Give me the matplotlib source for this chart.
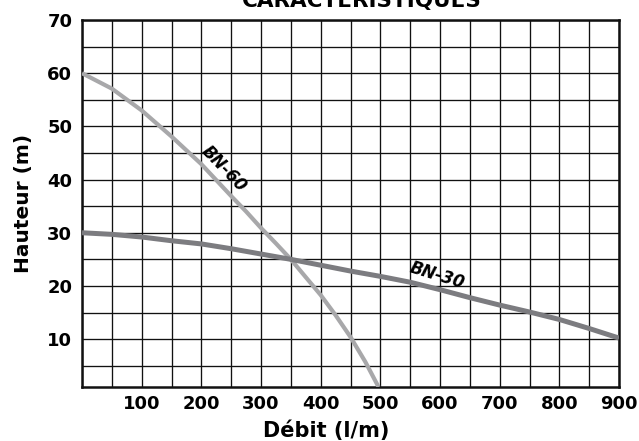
"""
Courbes caractéristiques BN-30 / BN-60
"""
import matplotlib
matplotlib.use('Agg')
import matplotlib.pyplot as plt

plt.rcParams.update({
    'font.family': 'DejaVu Sans', 'font.weight': 'bold',
    'figure.dpi': 100, 'savefig.dpi': 100,
})

# BN-60 (gris clair)
bn60_q = [0, 50, 100, 150, 200, 250, 275, 300, 325, 350, 400, 425, 450, 475, 497]
bn60_h = [60, 57.1, 53.0, 48.1, 42.9, 36.9, 34.0, 30.9, 28.0, 25.0, 18.3, 14.5, 10.4, 5.7, 1.0]
# BN-30 (gris foncé)
bn30_q = [0, 50, 100, 150, 200, 250, 300, 350, 400, 450, 500, 550, 600, 650, 700, 750, 800, 850, 900]
bn30_h = [30, 29.7, 29.2, 28.5, 27.9, 27.0, 26.0, 25.0, 23.9, 22.8, 21.8, 20.7, 19.3, 17.8, 16.4,
          15.1, 13.7, 12.0, 10.2]

xticks = [100, 200, 300, 400, 500, 600, 700, 800, 900]
yticks = [10, 20, 30, 40, 50, 60, 70]

fig = plt.figure(figsize=(6.39, 4.41))
ax = fig.add_axes([82/639, 1-387/441, 537/639, 367/441])

ax.set_xlim(0, 900); ax.set_ylim(1, 70)
ax.set_xticks(range(0, 901, 50), minor=True)
ax.set_yticks(range(5, 71, 5), minor=True)
ax.grid(True, which='both', color='#111111', lw=0.95)
ax.set_axisbelow(True)
ax.set_xticks(xticks); ax.set_yticks(yticks)
ax.tick_params(which='both', length=0, labelsize=13)
ax.tick_params(axis='x', pad=5.5); ax.tick_params(axis='y', pad=7)
for t in ax.get_xticklabels() + ax.get_yticklabels():
    t.set_fontweight('bold')
for s in ax.spines.values():
    s.set_linewidth(1.8); s.set_color('#111111')

ax.plot(bn60_q, bn60_h, color='#a8a8aa', lw=3.0, solid_capstyle='butt', zorder=3)
ax.plot(bn30_q, bn30_h, color='#7c7c80', lw=3.6, solid_capstyle='butt', zorder=4)

ax.text(238, 42.0, 'BN-60', rotation=-46, fontsize=12, fontweight='bold',
        fontstyle='italic', ha='center', va='center')
ax.text(596, 22.0, 'BN-30', rotation=-17, fontsize=12, fontweight='bold',
        fontstyle='italic', ha='center', va='center')

ax.set_xlabel('Débit (l/m)', fontsize=15, fontweight='bold')
ax.xaxis.set_label_coords((326-82)/537, -(420-387)/367)
ax.set_ylabel('Hauteur (m)', fontsize=14.5, fontweight='bold', labelpad=10)
fig.text(362/639, 1-7/441, 'CARACTÉRISTIQUES', fontsize=15.5, fontweight='bold',
         ha='center', va='baseline')

fig.savefig('out.png')
